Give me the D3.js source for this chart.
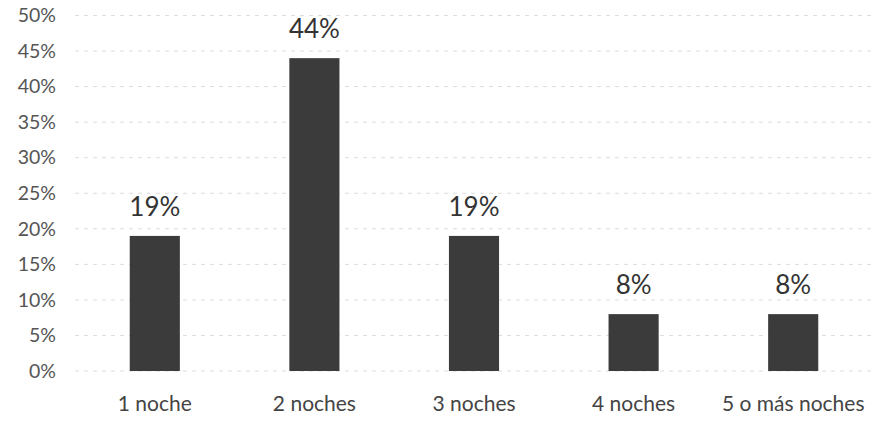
<!DOCTYPE html>
<html>
<head>
<meta charset="utf-8">
<script src="https://cdn.jsdelivr.net/npm/d3@7"></script>
<style>
  html, body { margin: 0; padding: 0; background: #fff; }
  svg { display: block; }
  text { font-family: Lato, "Open Sans", sans-serif; }
</style>
</head>
<body>
<svg id="chart" width="874" height="423"></svg>
<script>
const categories = ["1 noche", "2 noches", "3 noches", "4 noches", "5 o más noches"];
const values = [0.19, 0.44, 0.19, 0.08, 0.08];
const valueLabels = ["19%", "44%", "19%", "8%", "8%"];
const yTicks = [0, 0.05, 0.10, 0.15, 0.20, 0.25, 0.30, 0.35, 0.40, 0.45, 0.50];

const svg = d3.select("#chart");
const W = 874, H = 423;

const x = d3.scaleBand()
  .domain(categories)
  .range([75, 873])
  .paddingInner(0.686)
  .paddingOuter(0.343);

const y = d3.scaleLinear()
  .domain([0, 0.5])
  .range([371, 15.5]);

// gridlines
svg.append("g")
  .selectAll("line")
  .data(yTicks)
  .join("line")
  .attr("x1", 75).attr("x2", 873)
  .attr("y1", d => y(d)).attr("y2", d => y(d))
  .attr("stroke", "#dcdcdc")
  .attr("stroke-width", 1)
  .attr("stroke-dasharray", "4,5");

// y axis
const yAxis = d3.axisLeft(y)
  .tickValues(yTicks)
  .tickFormat(d3.format(".0%"))
  .tickSize(0)
  .tickPadding(0);
const gy = svg.append("g").attr("transform", "translate(56,0)").call(yAxis);
gy.select(".domain").remove();
gy.selectAll("text")
  .attr("fill", "#555")
  .style("font-size", "19.5px")
  .style("font-family", "Lato, 'Open Sans', sans-serif");

// bars
svg.append("g")
  .selectAll("rect")
  .data(values)
  .join("rect")
  .attr("x", (d, i) => x(categories[i]))
  .attr("width", x.bandwidth())
  .attr("y", d => y(d))
  .attr("height", d => y(0) - y(d))
  .attr("fill", "#3b3b3b");

// value labels
svg.append("g")
  .selectAll("text")
  .data(values)
  .join("text")
  .attr("x", (d, i) => x(categories[i]) + x.bandwidth() / 2)
  .attr("y", d => y(d) - 20)
  .attr("text-anchor", "middle")
  .attr("fill", "#333")
  .style("font-size", "26px")
  .text((d, i) => valueLabels[i]);

// x axis
const xAxis = d3.axisBottom(x).tickSize(0).tickPadding(0);
const gx = svg.append("g").attr("transform", "translate(0,396)").call(xAxis);
gx.select(".domain").remove();
gx.selectAll("text")
  .attr("fill", "#444")
  .attr("dy", "0.71em")
  .style("font-size", "21px")
  .style("font-family", "Lato, 'Open Sans', sans-serif");
</script>
</body>
</html>
